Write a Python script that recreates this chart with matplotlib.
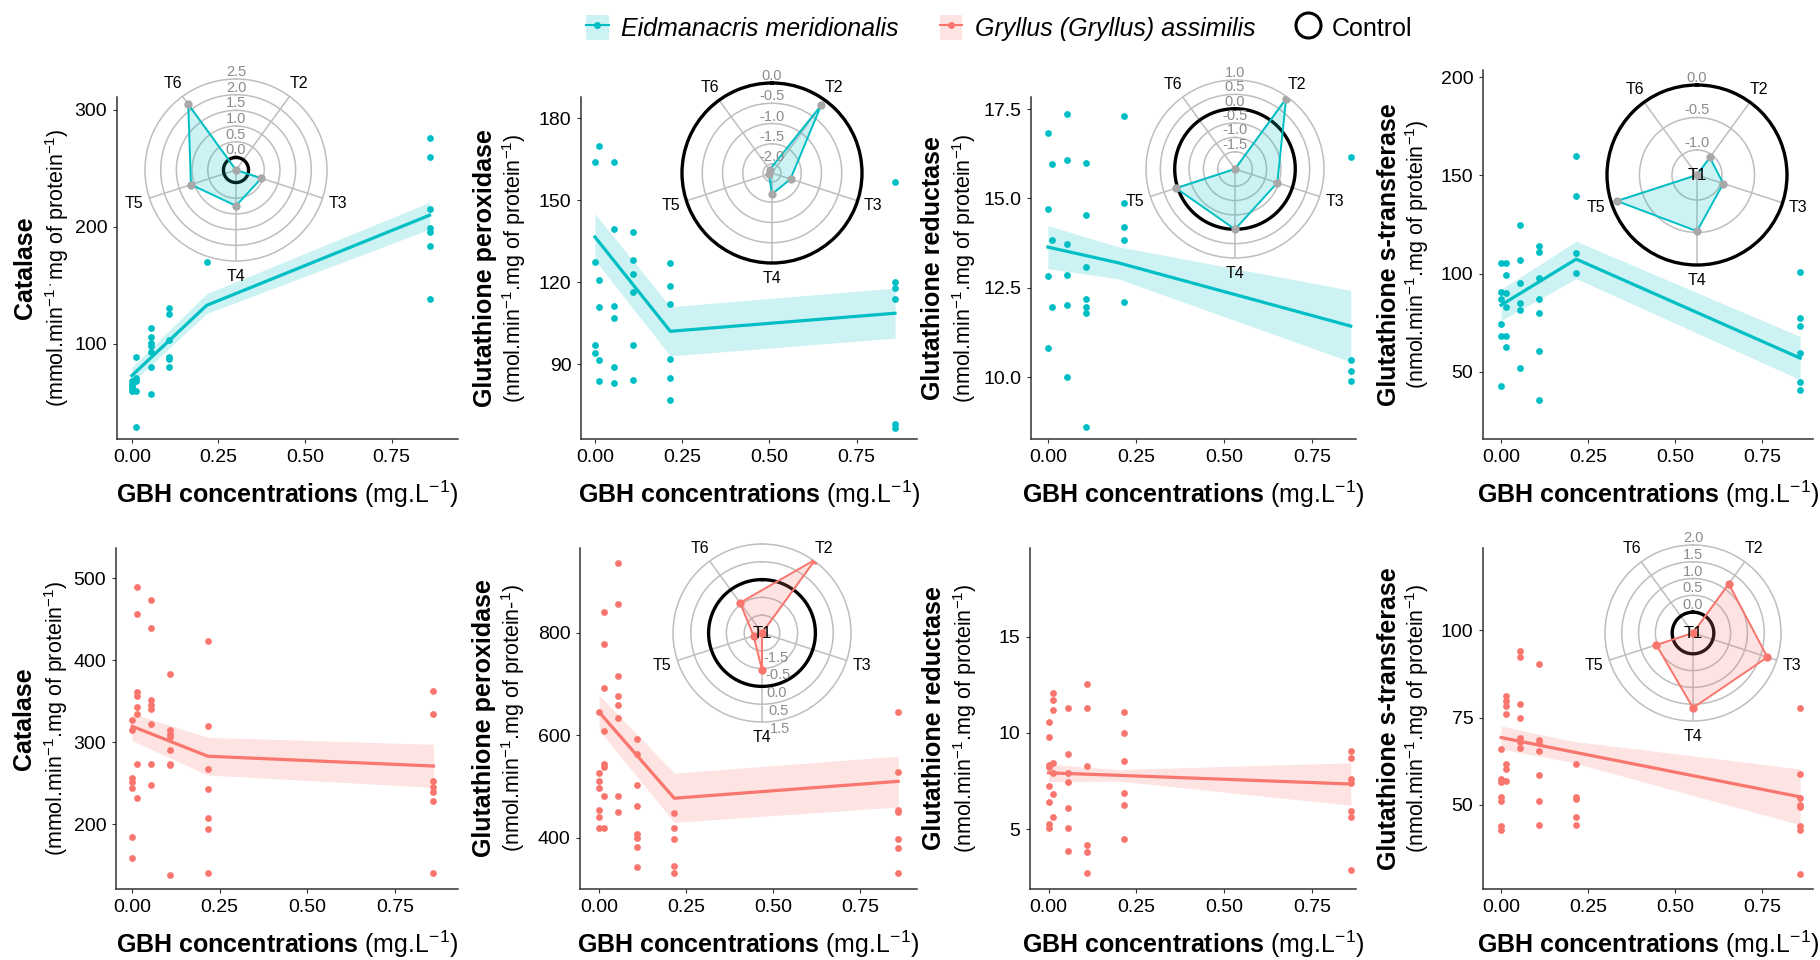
import numpy as np
import matplotlib
matplotlib.use("Agg")
import matplotlib.pyplot as plt
from matplotlib.patches import Patch
from matplotlib.lines import Line2D
from matplotlib.ticker import FormatStrFormatter

plt.rcParams['font.family'] = ['Liberation Sans', 'DejaVu Sans']
plt.rcParams['mathtext.fontset'] = 'custom'
plt.rcParams['mathtext.rm'] = 'Liberation Sans'
plt.rcParams['mathtext.bf'] = 'Liberation Sans:bold'
plt.rcParams['mathtext.it'] = 'Liberation Sans:italic'

W, H = 1820, 960
CYAN = '#00BFC4'
SALMON = '#F8766D'
GREY_PT = '#A8A8A8'
RING = '#BEBEBE'
NARROW = ['Liberation Sans Narrow', 'Liberation Sans', 'DejaVu Sans']

# GBH concentrations of treatments T1..T6 (mg/L)
conc = [0.0, 0.013, 0.054, 0.108, 0.216, 0.86]
treat = ['T2', 'T3', 'T4', 'T5', 'T6']
fit_x = [0.0, 0.216, 0.86]
fit_x_lin = [0.0, 0.2, 0.86]

# ---- Eidmanacris meridionalis ----
cat_em = [[62, 64, 66, 60, 68], [89, 71, 60, 29, 68], [114, 106, 101, 93, 80, 57, 98],
          [131, 126, 103, 89, 87, 80], [170], [276, 260, 215, 199, 196, 184, 138]]
cat_em_fit = [73, 133, 210]
cat_em_lo = [67, 126, 198]
cat_em_hi = [80, 143, 221]

gpx_em = [[164, 127.4, 97, 94], [169.9, 120.7, 110.8, 91.4, 83.8], [164, 139.4, 111.2, 107, 89, 83],
          [138.3, 128, 123, 116.4, 84, 97], [127, 118.5, 112, 92, 85, 77], [156.6, 120, 117.8, 113.8, 68, 66.8]]
gpx_em_fit = [136.5, 102, 108.6]
gpx_em_lo = [128, 93, 99.5]
gpx_em_hi = [145, 111, 117.8]

gr_em = [[16.82, 14.71, 12.82, 10.81], [15.97, 13.83, 11.95],
         [17.37, 16.07, 13.73, 12.86, 12.01, 10.0], [16.0, 14.55, 13.08, 12.18, 11.95, 11.79, 8.6],
         [17.3, 14.87, 14.2, 13.85, 12.1], [16.17, 10.49, 10.16, 9.9]]
gr_em_fit = [13.64, 13.2, 11.43]
gr_em_band = [0.6, 0.45, 1.0]

gst_em = [[105.6, 90.8, 87.3, 74.3, 68.3, 42.9], [105.6, 99.1, 90.2, 83.1, 68.3, 62.4],
          [124.6, 106.8, 95, 84.9, 81.4, 51.8], [113.9, 110.9, 97.9, 87.3, 80.2, 60.7, 35.8],
          [159.7, 139.3, 110.7, 100.5], [100.9, 77.2, 73.1, 59.5, 44.7, 40.5]]
gst_em_fit = [84, 107.4, 57]
gst_em_lo = [76, 97.5, 46]
gst_em_hi = [92, 116.5, 68]

# ---- Gryllus (Gryllus) assimilis ----
cat_ga = [[326.8, 314.6, 257, 251, 244, 184, 158.5], [489, 456, 361, 356, 343, 335, 274, 232],
          [473, 439, 351, 346, 341, 322, 274, 248], [383, 315, 310, 306, 291, 274, 272, 138],
          [424, 320, 267, 243, 208, 194, 140], [363, 334, 253, 245, 239, 228, 141]]
cat_ga_fit = [319.5, 283, 271]
cat_ga_lo = [302, 260, 245]
cat_ga_hi = [335, 306, 297.5]

gpx_ga = [[645, 526, 510, 497, 454, 440, 419], [840, 778, 692, 608, 543, 538, 481, 419],
          [936, 855, 715, 676, 659, 633, 481, 450], [592, 563, 502, 461, 407, 399, 382, 343],
          [448, 419, 397, 345, 331], [645, 528, 455, 451, 397, 379, 331]]
gpx_ga_fit = [645, 477, 510]
gpx_ga_lo = [610, 430, 460]
gpx_ga_hi = [678, 526, 559]

gr_ga = [[10.57, 9.8, 8.35, 8.24, 7.27, 6.39, 5.25, 5.08], [12.07, 11.7, 11.19, 8.45, 7.93, 6.84, 5.65],
         [11.3, 8.9, 7.9, 7.46, 6.11, 5.08, 3.89], [12.54, 11.3, 8.3, 4.2, 3.84, 2.75],
         [11.1, 10.0, 8.55, 6.89, 6.27, 4.5], [9.07, 8.7, 7.6, 7.41, 5.96, 5.65, 2.9]]
gr_ga_fit = [7.93, 7.80, 7.35]
gr_ga_band = [0.45, 0.3, 1.1]

gst_ga = [[66.1, 57.5, 56.5, 52.3, 51, 44, 42.8], [81.3, 79.9, 78.4, 75.9, 61.8, 60.4, 56.9],
          [94.2, 92.5, 79, 75, 69.3, 68.1, 66.4], [90.5, 68.7, 67.6, 65.5, 58.6, 51.2, 44.3],
          [61.8, 52.3, 51.7, 46.6, 44.3], [77.9, 58.9, 52, 50, 49.4, 44, 42.8, 30.2]]
gst_ga_fit = [69.3, 65.3, 52.3]
gst_ga_band = [3.3, 3.0, 8.0]

# ---- radar values (log response, T2..T6) ----
cat_em_radar = [-0.4, 0.45, 0.74, 1.11, 2.19]
gpx_em_radar = [-0.16, -1.74, -1.70, -2.14, -2.12]
gr_em_radar = [0.93, -0.55, 0.0, 0.06, -2.1]
gst_em_radar = [-1.05, -0.96, -0.52, -0.09, -1.385]
gpx_ga_radar = [1.05, -1.5, -0.46, -1.25, -0.45]
gst_ga_radar = [1.19, 1.71, 1.61, 0.53, -0.62]

fig = plt.figure(figsize=(W / 100, H / 100), dpi=100)


def px_axes(left, top, right, bottom, **kw):
    return fig.add_axes([left / W, 1 - bottom / H, (right - left) / W, (bottom - top) / H], **kw)


def panel(box, groups, color, xlim, ylim, yticks, fx, fy, lo, hi, title, unit, yfmt='%d', xoff=(-0.27, -0.175)):
    ax = px_axes(*box)
    for x, ys in zip(conc, groups):
        ax.scatter([x] * len(ys), ys, s=24, color=color, lw=0, zorder=3)
    ax.fill_between(fx, lo, hi, color=color, alpha=0.2, lw=0, zorder=1)
    ax.plot(fx, fy, color=color, lw=2.3, zorder=2)
    ax.set_xlim(xlim)
    ax.set_ylim(ylim)
    ax.set_xticks([0, 0.25, 0.5, 0.75])
    ax.set_yticks(yticks)
    ax.xaxis.set_major_formatter(FormatStrFormatter('%.2f'))
    ax.yaxis.set_major_formatter(FormatStrFormatter(yfmt))
    for s in ['top', 'right']:
        ax.spines[s].set_visible(False)
    for s in ['left', 'bottom']:
        ax.spines[s].set_color('#333333')
        ax.spines[s].set_linewidth(1.1)
    ax.tick_params(length=3, color='#333333', labelsize=14, pad=4)
    for lab in ax.get_xticklabels() + ax.get_yticklabels():
        lab.set_family(NARROW)
    ax.set_xlabel(r"$\mathbf{GBH\ concentrations}$ (mg.L$^{-1}$)", fontsize=18, labelpad=9)
    ax.text(xoff[0], 0.5, title, rotation=90, fontsize=18, fontweight='bold',
            ha='center', va='center', transform=ax.transAxes)
    ax.text(xoff[1], 0.5, unit, rotation=90, fontsize=15.5,
            ha='center', va='center', transform=ax.transAxes)
    return ax


def radar(cx, cy, rad, vals, rmin, rings, ring_txt, outer, ctrl, color, mcolor, t1=False, lab_bottom=False):
    ax = px_axes(cx - rad, cy - rad, cx + rad, cy + rad, projection='polar')
    ax.set_facecolor('none')
    ax.set_theta_zero_location('N')
    ax.set_theta_direction(-1)
    ang = np.deg2rad([36, 108, 180, 252, 324])
    ax.set_ylim(rmin, outer)
    ax.set_xticks(ang)
    ax.set_xticklabels(treat, fontsize=11.5)
    ax.tick_params(axis='x', pad=1)
    ax.set_yticks(rings)
    ax.set_yticklabels([])
    ax.grid(True, color=RING, lw=1.1)
    if ctrl == outer:
        ax.spines['polar'].set_color('black')
        ax.spines['polar'].set_linewidth(2.4)
    else:
        ax.spines['polar'].set_color(RING)
        ax.spines['polar'].set_linewidth(1.1)
        th = np.linspace(0, 2 * np.pi, 300)
        ax.plot(th, [ctrl] * len(th), color='black', lw=2.4, zorder=4)
    th = np.append(ang, ang[0])
    v = vals + [vals[0]]
    ax.fill(th, v, color=color, alpha=0.2, lw=0, zorder=5)
    ax.plot(th, v, color=color, lw=1.4, zorder=6)
    ax.scatter(ang, vals, s=36, color=mcolor, lw=0, zorder=7)
    for r, t in zip(list(rings) + [outer], ring_txt):
        if lab_bottom:
            ax.text(np.pi - 0.09, r, t, ha='left', va='top', fontsize=10.5, color='#8C8C8C', zorder=8)
        else:
            ax.text(0, r, t, ha='center', va='bottom', fontsize=10.5, color='#8C8C8C', zorder=8)
    if t1:
        ax.text(0, rmin, 'T1', ha='center', va='center', fontsize=12, zorder=9)
    return ax


unit_mmol = "(mmol.min$^{-1}$.mg of protein$^{-1}$)"
unit_nmol = "(nmol.min$^{-1}$.mg of protein$^{-1}$)"

# ---- top row ----
panel((117, 97, 458, 439), cat_em, CYAN, (-0.043, 0.942), (18.8, 311), [100, 200, 300],
      fit_x, cat_em_fit, cat_em_lo, cat_em_hi, 'Catalase', "(mmol.min$^{-1\\cdot}$mg of protein$^{-1}$)")
panel((581, 97, 917, 439), gpx_em, CYAN, (-0.04, 0.923), (62.6, 187.7), [90, 120, 150, 180],
      fit_x, gpx_em_fit, gpx_em_lo, gpx_em_hi, 'Glutathione peroxidase', unit_nmol, xoff=(-0.285, -0.2))
f = np.array(gr_em_fit); b = np.array(gr_em_band)
panel((1031, 97, 1356, 439), gr_em, CYAN, (-0.048, 0.875), (8.27, 17.84), [10.0, 12.5, 15.0, 17.5],
      fit_x_lin, f, f - b, f + b, 'Glutathione reductase', unit_nmol, yfmt='%.1f', xoff=(-0.30, -0.205))
panel((1483, 70, 1813, 439), gst_em, CYAN, (-0.052, 0.897), (15.8, 203.7), [50, 100, 150, 200],
      fit_x, gst_em_fit, gst_em_lo, gst_em_hi, 'Glutathione s-transferase', unit_nmol, xoff=(-0.285, -0.2))

# ---- bottom row ----
panel((116, 548, 458, 889), cat_ga, SALMON, (-0.046, 0.93), (121, 537), [200, 300, 400, 500],
      fit_x, cat_ga_fit, cat_ga_lo, cat_ga_hi, 'Catalase', unit_mmol)
panel((580, 548, 917, 889), gpx_ga, SALMON, (-0.055, 0.914), (300, 965), [400, 600, 800],
      fit_x, gpx_ga_fit, gpx_ga_lo, gpx_ga_hi, 'Glutathione peroxidase',
      "(nmol.min$^{-1}$.mg of protein-$^{1}$)", xoff=(-0.285, -0.2))
f = np.array(gr_ga_fit); b = np.array(gr_ga_band)
panel((1030, 548, 1356, 889), gr_ga, SALMON, (-0.053, 0.875), (1.9, 19.6), [5, 10, 15],
      fit_x_lin, f, f - b, f + b, 'Glutathione reductase', unit_nmol, xoff=(-0.295, -0.2))
f = np.array(gst_ga_fit); b = np.array(gst_ga_band)
panel((1483, 548, 1813, 889), gst_ga, SALMON, (-0.052, 0.897), (25.9, 123.6), [50, 75, 100],
      fit_x_lin, f, f - b, f + b, 'Glutathione s-transferase', unit_nmol, xoff=(-0.285, -0.2))

# ---- radar insets ----
radar(236, 170, 91, cat_em_radar, -0.4, [0.0, 0.5, 1.0, 1.5, 2.0],
      ['0.0', '0.5', '1.0', '1.5', '2.0', '2.5'], 2.5, 0.0, CYAN, GREY_PT)
radar(772, 173, 90, gpx_em_radar, -2.22, [-2.0, -1.5, -1.0, -0.5],
      ['-2.0', '-1.5', '-1.0', '-0.5', '0.0'], 0.0, 0.0, CYAN, GREY_PT)
radar(1235, 169, 89, gr_em_radar, -2.1, [-1.5, -1.0, -0.5, 0.0, 0.5],
      ['-1.5', '-1.0', '-0.5', '0.0', '0.5', '1.0'], 1.0, 0.0, CYAN, GREY_PT)
radar(1697, 175, 90, gst_em_radar, -1.385, [-1.0, -0.5],
      ['-1.0', '-0.5', '0.0'], 0.0, 0.0, CYAN, GREY_PT, t1=True)
radar(762, 633, 89, gpx_ga_radar, -1.5, [-1.0, -0.5, 0.0, 0.5],
      ['-1.5', '-0.5', '0.0', '0.5', '1.5'], 1.0, 0.0, SALMON, SALMON, t1=True, lab_bottom=True)
radar(1693, 633, 88, gst_ga_radar, -0.62, [0.0, 0.5, 1.0, 1.5],
      ['0.0', '0.5', '1.0', '1.5', '2.0'], 2.0, 0.0, SALMON, SALMON, t1=True)

# ---- legend ----
handles = [(Patch(facecolor=CYAN, alpha=0.2, lw=0), Line2D([], [], color=CYAN, marker='o', ms=4, lw=1.5)),
           (Patch(facecolor=SALMON, alpha=0.2, lw=0), Line2D([], [], color=SALMON, marker='o', ms=4, lw=1.5)),
           Line2D([], [], color='black', marker='o', ms=18, mfc='none', mew=2.2, lw=0)]
leg = fig.legend(handles, ['Eidmanacris meridionalis', 'Gryllus (Gryllus) assimilis', 'Control'],
                 loc='upper center', bbox_to_anchor=(0.549, 1.008), ncol=3, frameon=False,
                 fontsize=18, handlelength=0.9, handleheight=1.2, columnspacing=1.65, handletextpad=0.5)
for t in leg.get_texts()[:2]:
    t.set_style('italic')

fig.savefig('out.png', dpi=100, facecolor='white')
